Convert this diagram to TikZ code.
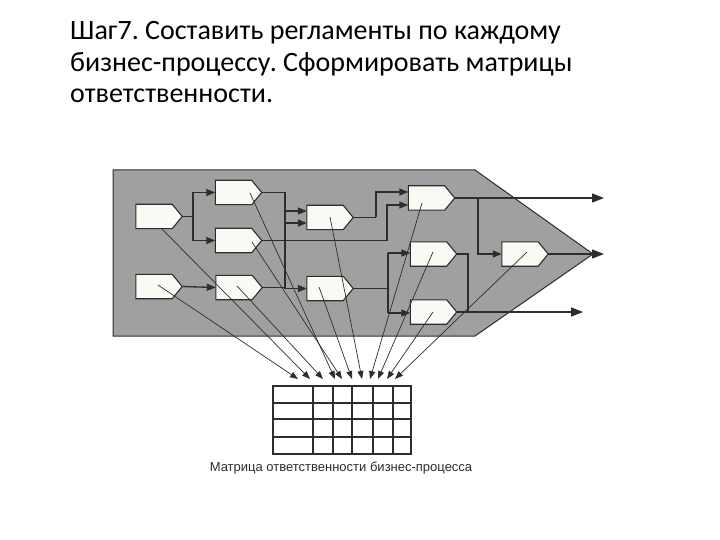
\documentclass[tikz,border=0pt]{standalone}
\usepackage{fontspec}
\setmainfont{Carlito}
\newfontfamily\capfont{Liberation Sans}
\usetikzlibrary{arrows.meta}
\definecolor{panel}{RGB}{160,160,160}
\definecolor{ink}{RGB}{45,45,45}
\definecolor{boxfill}{RGB}{250,250,244}
\frenchspacing
\tikzset{
  pnode/.style={minimum width=46pt, minimum height=24pt, inner sep=0pt, draw=none},
  pshape/.style={fill=boxfill, draw=ink, line width=1.1pt},
  wire/.style={draw=ink, line width=1.3pt},
  wirearr/.style={wire, -{Triangle[length=9pt,width=7pt]}},
  outarr/.style={wire, -{Triangle[length=12pt,width=9pt]}},
  fan/.style={draw=ink, line width=0.7pt, -{Triangle[length=8pt,width=6pt]}},
  gridline/.style={draw=ink, line width=1.2pt},
  titletext/.style={font=\fontsize{28}{31}\selectfont, anchor=base west, inner sep=0pt, text=black}
}
\newcommand\pbox[3]{%
  \node[pnode] (#1) at (#2,#3) {};
  \path[pshape] (#1.north west) -- ([xshift=-10pt]#1.north east) -- (#1.east)
     -- ([xshift=-10pt]#1.south east) -- (#1.south west) -- cycle;}
\begin{document}
\begin{tikzpicture}[x=1pt,y=-1pt]
\useasboundingbox (0,0) rectangle (720,540);
\fill[white] (0,0) rectangle (720,540);
% title
\node[titletext] (t1) at (70,40) {Шаг7. Составить регламенты по каждому};
\node[titletext] (t2) at (70,72) {бизнес-процессу. Сформировать матрицы};
\node[titletext] (t3) at (70,103) {ответственности.};
% gray panel
\path[fill=panel, draw=ink, line width=1pt] (113,170) -- (475,170) -- (593,254) -- (475,336) -- (113,336) -- cycle;
% boxes
\pbox{A}{159}{216.5}
\pbox{B}{238.5}{192.5}
\pbox{C}{238.5}{240.5}
\pbox{D}{159}{286.5}
\pbox{E}{239}{287.5}
\pbox{F}{330}{217.5}
\pbox{G}{330}{288.5}
\pbox{H}{431.5}{198}
\pbox{I}{433.5}{254}
\pbox{J}{433.5}{312}
\pbox{K}{525}{254}
% junction coordinates
\coordinate (ja) at (193,216.5);
\coordinate (jb) at (285,192.5);
\coordinate (jbe) at (285,287.5);
\coordinate (jc) at (387,240.5);
\coordinate (jf) at (376,217.5);
\coordinate (jg) at (388,288.5);
\coordinate (jh) at (478,198);
\coordinate (ji) at (468,254);
\coordinate (o1) at (604,198);
\coordinate (o2) at (604,254);
\coordinate (o3) at (583,312);
% wires
\draw[wire] (A.east) -- (ja);
\draw[wirearr] (ja) |- (B.west);
\draw[wirearr] (ja) |- (C.west);
\draw[wirearr] (D.east) -- (E.west);
\draw[wire] (B.east) -- (jb) -- (jbe);
\draw[wirearr] (jb |- 0,211) -- (F.west |- 0,211);
\draw[wirearr] (jb |- 0,223) -- (F.west |- 0,223);
\draw[wirearr] (E.east) -- (jbe) |- (G.west);
\draw[wire] (C.east) -- (jc);
\draw[wirearr] (jc) |- (H.west |- 0,205);
\draw[wire] (F.east) -- (jf);
\draw[wirearr] (jf) |- (H.west |- 0,192);
\draw[wire] (G.east) -- (jg);
\draw[wire] (jg |- 0,253) -- (jg |- 0,313);
\draw[wirearr] (jg |- 0,253) -- (I.west |- 0,253);
\draw[wirearr] (jg |- 0,313) -- (J.west |- 0,313);
\draw[outarr] (H.east) -- (o1);
\draw[wirearr] (jh) |- (K.west);
\draw[wire] (I.east) -- (ji) |- (J.east -| ji);
\draw[outarr] (J.east) -- (o3);
\draw[outarr] (K.east) -- (o2);
% matrix
\node[draw=ink, line width=1.2pt, minimum width=138pt, minimum height=68pt, inner sep=0pt] (mat) at (342,420) {};
\foreach \yy in {403,419,437} \draw[gridline] (mat.west |- 0,\yy) -- (mat.east |- 0,\yy);
\foreach \xx in {313,333,352,373,393} \draw[gridline] (mat.north -| \xx,0) -- (mat.south -| \xx,0);
% fan sources
\coordinate (sA) at (161,228);
\coordinate (sB) at (250,193);
\coordinate (sC) at (252,242);
\coordinate (sD) at (158,285);
\coordinate (sE) at (237,286);
\coordinate (sF) at (330,217);
\coordinate (sG) at (319,287);
\coordinate (sH) at (422,203);
\coordinate (sI) at (433,252);
\coordinate (sJ) at (433,312);
\coordinate (sK) at (527,252);
% fan targets
\coordinate (mD) at (298,379);
\coordinate (mA) at (310,379);
\coordinate (mE) at (323,379);
\coordinate (mB) at (335,379);
\coordinate (mC) at (342,379);
\coordinate (mG) at (352,379);
\coordinate (mF) at (362,379);
\coordinate (mH) at (370,379);
\coordinate (mI) at (378,379);
\coordinate (mJ) at (387,379);
\coordinate (mK) at (395,379);
\foreach \s in {A,B,C,D,E,F,G,H,I,J,K} \draw[fan] (s\s) -- (m\s);
% caption
\node[font=\capfont\fontsize{13}{15}\selectfont, inner sep=0pt, anchor=base, text=ink] (cap) at (341,471) {Матрица ответственности бизнес-процесса};
\end{tikzpicture}
\end{document}
